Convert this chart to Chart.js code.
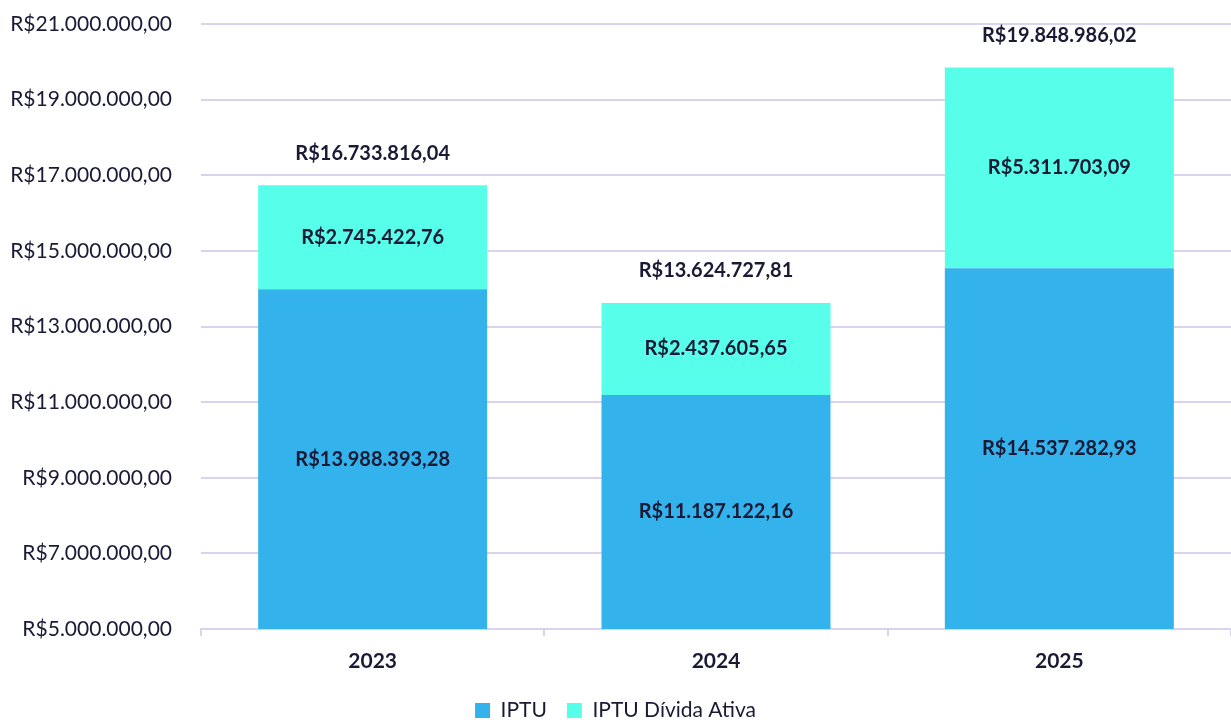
<!DOCTYPE html>
<html>
<head>
<meta charset="utf-8">
<script src="https://cdn.jsdelivr.net/npm/chart.js@4"></script>
<style>
  html, body { margin: 0; padding: 0; background: #fff; }
  #wrap { width: 1231px; height: 720px; }
</style>
</head>
<body>
<div id="wrap"><canvas id="myChart"></canvas></div>
<script>
const anos = ['2023', '2024', '2025']
const iptu = [13988393.28, 11187122.16, 14537282.93]
const dividaAtiva = [2745422.76, 2437605.65, 5311703.09]
const yTicks = { min: 5000000, max: 21000000, step: 2000000 }

const FONT = 'Lato'
const TEXT = '#1b1a36'
const GRID = '#d8d4f0'

// R$ no formato brasileiro, sem depender do Intl
function reais(v) {
    const [inteiro, dec] = v.toFixed(2).split('.')
    return 'R$' + inteiro.replace(/\B(?=(\d{3})+(?!\d))/g, '.') + ',' + dec
}

const totais = anos.map((a, i) => iptu[i] + dividaAtiva[i])

// rotulos dentro das barras e total em cima
const rotulos = {
    id: 'rotulos',
    afterDatasetsDraw(chart) {
        const ctx = chart.ctx
        const area = chart.chartArea
        ctx.save()
        ctx.font = `bold 20px ${FONT}`
        ctx.fillStyle = TEXT
        ctx.textAlign = 'center'
        ctx.textBaseline = 'middle'
        chart.data.datasets.forEach((ds, d) => {
            chart.getDatasetMeta(d).data.forEach((bar, i) => {
                const top = Math.max(bar.y, area.top)
                const bottom = Math.min(bar.base, area.bottom)
                ctx.fillText(reais(ds.data[i]), bar.x, (top + bottom) / 2)
            })
        })
        const y = chart.scales.y
        chart.getDatasetMeta(0).data.forEach((bar, i) => {
            ctx.fillText(reais(totais[i]), bar.x, y.getPixelForValue(totais[i]) - 32)
        })
        ctx.restore()
    }
}

const canvas = document.getElementById('myChart')
const myChart = new Chart(canvas, {
    type: 'bar',
    data: {
        labels: anos,
        datasets: [
            { label: 'IPTU', data: iptu, backgroundColor: '#33b2eb' },
            { label: 'IPTU Dívida Ativa', data: dividaAtiva, backgroundColor: '#57ffeb' }
        ]
    },
    options: {
        responsive: true,
        maintainAspectRatio: false,
        animation: false,
        barPercentage: 0.667,
        categoryPercentage: 1,
        layout: { padding: { top: 24, right: 0, left: 0, bottom: -11 } },
        scales: {
            x: {
                stacked: true,
                grid: { offset: true, drawOnChartArea: false, drawTicks: true, tickLength: 7, color: GRID, lineWidth: 2 },
                border: { display: true, color: GRID, width: 2 },
                ticks: { color: TEXT, font: { family: FONT, size: 21, weight: 'bold' }, padding: 13 },
                afterFit(scale) { scale.height = 51 }
            },
            y: {
                stacked: true,
                min: yTicks.min,
                max: yTicks.max,
                ticks: {
                    stepSize: yTicks.step,
                    color: TEXT,
                    font: { family: FONT, size: 21 },
                    padding: 29,
                    callback: v => reais(v)
                },
                grid: { color: GRID, lineWidth: 2, drawTicks: false },
                border: { display: false },
                afterFit(scale) {
                    scale.width = 201
                    scale.paddingTop = 0
                    scale.paddingBottom = 0
                }
            }
        },
        plugins: {
            legend: {
                position: 'bottom',
                labels: {
                    color: TEXT,
                    font: { family: FONT, size: 21 },
                    boxWidth: 15,
                    boxHeight: 15,
                    padding: 20
                }
            },
            tooltip: { enabled: false }
        }
    },
    plugins: [rotulos]
})
</script>
</body>
</html>
